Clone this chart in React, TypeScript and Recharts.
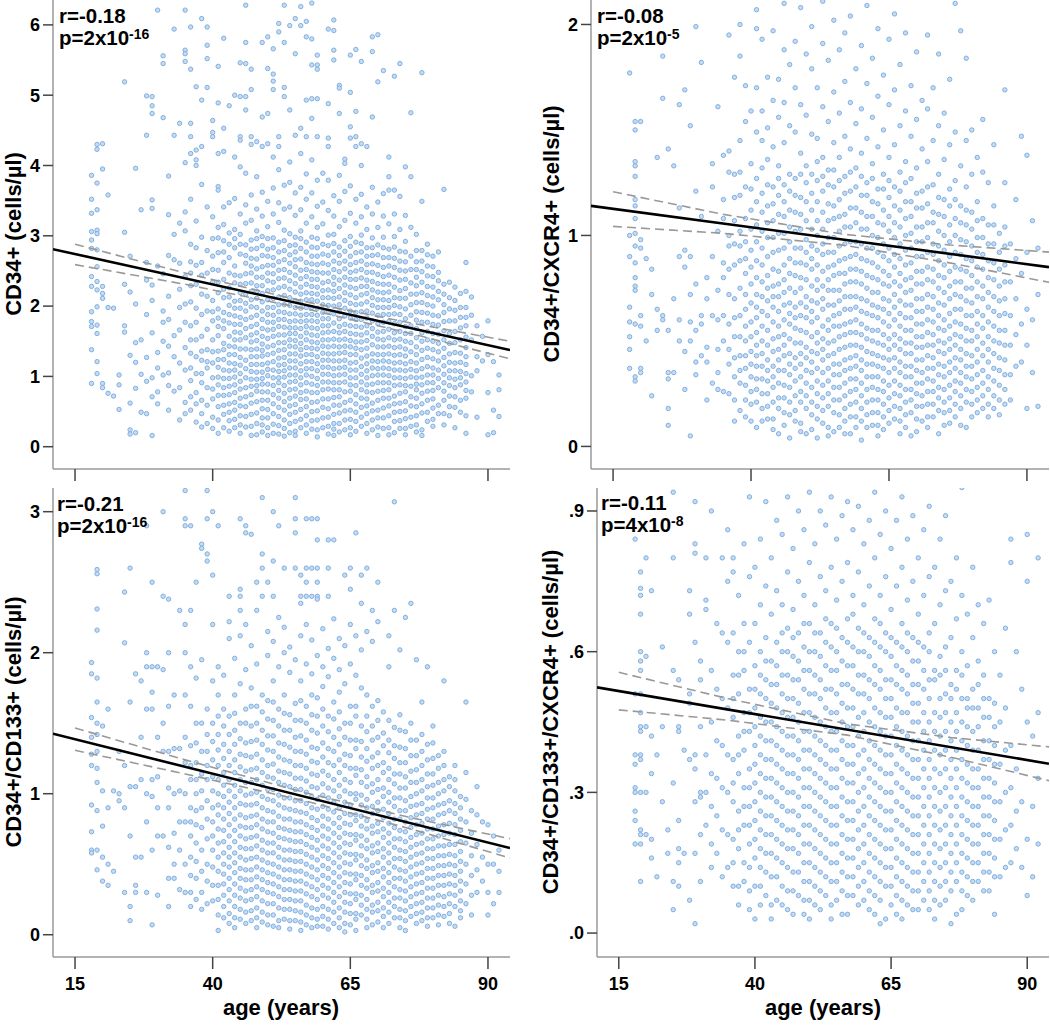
import React from 'react';
import { ScatterChart, Scatter, XAxis, YAxis } from 'recharts';

type Col = [number, number[]];
type Pt = { x: number; y: number };

const AGE_DOMAIN = [11, 94];
const AGE_TICKS = [15, 40, 65, 90];

// CD34+ (cells/µl) by age
const CD34_COLS: Col[] = [
  [18, [3.86, 3.52, 3.32, 3.06, 2.94, 2.82, 2.42, 2.28, 1.92, 1.78, 1.71, 1.38, 0.9]],
  [19, [4.3, 4.23, 3.75, 3.37, 3.08, 3.03, 2.8, 2.56, 2.35, 2.23, 1.99, 1.73, 1.61, 1.21, 1.04]],
  [20, [4.31, 3.95, 2.28, 2.18, 2.11, 0.9, 0.84]],
  [21, [3.58, 1.98, 0.76]],
  [22, [1.97, 0.72]],
  [23, [1.02, 0.88, 0.53]],
  [24, [5.19, 3.05, 2.31, 1.72, 1.63]],
  [25, [2.71, 2.2, 1.3, 0.62, 0.24, 0.18]],
  [26, [3.96, 2.03, 1.48, 1.2, 0.83, 0.2]],
  [27, [3.37, 1.52, 1.03, 0.49]],
  [28, [4.99, 4.43, 2.62, 2.37, 1.88, 1.27, 0.93, 0.47]],
  [29, [4.98, 4.85, 4.74, 3.51, 3.39, 2.3, 2.08, 1.62, 0.98, 0.71, 0.16]],
  [30, [6.21, 2.57, 1.34, 1.12, 0.78, 0.61]],
  [31, [5.56, 5.45, 4.68, 2.46, 1.93, 1.77, 1.5, 1.02]],
  [32, [3.85, 3.3, 2.72, 2.14, 1.81, 1.43, 1.05, 0.87, 0.52]],
  [33, [5.94, 4.43, 3.02, 2.66, 1.58, 1.28, 0.79]],
  [34, [4.6, 3.18, 2.61, 2.24, 1.98, 1.66, 1.19, 0.84, 0.38]],
  [35, [6.21, 5.64, 5.59, 5.48, 4.04, 3.34, 3.07, 2.42, 2.03, 1.77, 1.41, 1.09, 0.63, 0.47]],
  [36, [5.97, 5.37, 4.6, 4.41, 4.17, 3.52, 2.88, 2.63, 2.29, 2.06, 1.72, 1.33, 0.94, 0.52]],
  [37, [5.12, 4.22, 4.08, 4.0, 3.21, 2.58, 1.97, 1.52, 1.04, 0.77]],
  [38, [6.09, 4.93, 4.27, 3.73, 2.98, 2.44, 2.17, 1.88, 1.57, 1.23, 0.91, 0.28]],
  [39, [5.97, 5.71, 5.52, 5.11, 2.79, 2.47, 1.93, 1.38, 1.12, 0.59]],
  [40, [4.64, 4.47, 4.41, 3.27, 2.96, 2.71, 2.34, 2.08, 1.79, 1.52, 1.19, 0.98, 0.68, 0.42]],
  [41, [5.41, 4.89, 4.17, 3.7, 3.65, 3.12, 2.76, 2.51, 2.19, 1.96, 1.83, 1.58, 1.36, 1.13, 0.88, 0.57, 0.19]],
  [42, [5.81, 4.53, 4.2, 3.41, 3.16, 2.93, 2.62, 2.38, 2.12, 1.91, 1.68, 1.47, 1.24, 0.97, 0.73, 0.46]],
  [43, [4.85, 3.47, 3.04, 2.69, 2.47, 2.26, 2.01, 1.76, 1.57, 1.31, 1.08, 0.86, 0.61, 0.37]],
  [44, [5.0, 4.12, 3.53, 3.09, 2.83, 2.57, 2.33, 2.07, 1.86, 1.63, 1.42, 1.18, 0.99, 0.77, 0.52, 0.27]],
  [45, [5.46, 4.98, 4.41, 4.36, 3.98, 3.31, 3.02, 2.74, 2.43, 2.19, 1.97, 1.74, 1.52, 1.27, 1.04, 0.82, 0.58, 0.31]],
  [46, [6.28, 5.75, 5.45, 4.98, 4.79, 3.89, 3.44, 3.18, 2.87, 2.61, 2.32, 2.04, 1.81, 1.55, 1.23, 0.98, 0.71, 0.43]],
  [47, [5.37, 5.08, 4.41, 4.3, 3.58, 3.22, 2.94, 2.68, 2.47, 2.21, 1.99, 1.71, 1.49, 1.28, 1.07, 0.86, 0.62, 0.29]],
  [48, [4.34, 3.84, 3.38, 3.07, 2.82, 2.53, 2.29, 2.11, 1.87, 1.62, 1.39, 1.17, 0.96, 0.79, 0.48, 0.17]],
  [49, [5.75, 4.69, 4.27, 3.62, 3.28, 2.99, 2.72, 2.41, 2.18, 1.93, 1.68, 1.46, 1.29, 1.06, 0.89, 0.66, 0.41, 0.21]],
  [50, [5.83, 5.38, 4.74, 4.31, 3.49, 3.13, 2.81, 2.58, 2.36, 2.09, 1.88, 1.66, 1.42, 1.19, 1.01, 0.78, 0.53, 0.27]],
  [51, [5.66, 5.3, 5.2, 5.08, 4.12, 3.68, 3.31, 2.97, 2.69, 2.46, 2.23, 1.98, 1.77, 1.57, 1.33, 1.09, 0.87, 0.61, 0.32]],
  [52, [6.02, 5.9, 4.41, 4.27, 3.94, 3.47, 3.19, 2.91, 2.63, 2.39, 2.13, 1.92, 1.71, 1.48, 1.26, 1.07, 0.91, 0.69, 0.43, 0.18]],
  [53, [6.28, 5.75, 5.11, 4.98, 3.72, 3.38, 3.08, 2.79, 2.52, 2.28, 2.02, 1.81, 1.59, 1.38, 1.17, 0.99, 0.76, 0.52, 0.26]],
  [54, [5.99, 4.79, 4.05, 3.76, 3.41, 3.03, 2.73, 2.48, 2.24, 2.01, 1.78, 1.61, 1.43, 1.22, 1.02, 0.81, 0.58, 0.33]],
  [55, [6.09, 5.59, 4.43, 3.61, 3.29, 2.98, 2.77, 2.56, 2.32, 2.08, 1.89, 1.69, 1.51, 1.32, 1.12, 0.93, 0.72, 0.49, 0.22]],
  [56, [6.26, 5.99, 4.53, 4.17, 3.69, 3.37, 3.07, 2.82, 2.51, 2.27, 2.07, 1.87, 1.68, 1.47, 1.29, 1.08, 0.88, 0.67, 0.39]],
  [57, [6.05, 5.83, 4.93, 4.41, 3.88, 3.52, 3.18, 2.91, 2.62, 2.42, 2.19, 1.98, 1.79, 1.62, 1.41, 1.21, 1.02, 0.79, 0.57, 0.31]],
  [58, [6.31, 5.8, 5.43, 4.95, 4.67, 4.08, 3.61, 3.27, 2.98, 2.71, 2.49, 2.28, 2.09, 1.88, 1.69, 1.49, 1.31, 1.11, 0.89, 0.63, 0.37]],
  [59, [5.57, 5.43, 5.37, 4.95, 4.41, 3.79, 3.42, 3.12, 2.83, 2.59, 2.38, 2.17, 1.97, 1.78, 1.58, 1.39, 1.18, 0.97, 0.77, 0.51, 0.24]],
  [60, [3.89, 3.48, 3.17, 2.88, 2.61, 2.33, 2.12, 1.91, 1.72, 1.52, 1.33, 1.13, 0.92, 0.68, 0.41]],
  [61, [5.94, 4.88, 4.39, 4.27, 3.79, 3.36, 3.01, 2.72, 2.47, 2.23, 2.01, 1.82, 1.63, 1.42, 1.23, 1.03, 0.82, 0.54, 0.29]],
  [62, [6.07, 5.92, 5.64, 5.5, 3.57, 3.28, 3.02, 2.77, 2.52, 2.31, 2.11, 1.89, 1.64, 1.43, 1.22, 1.01, 0.81, 0.59, 0.33, 0.16]],
  [63, [5.14, 5.1, 4.74, 3.86, 3.49, 3.13, 2.84, 2.61, 2.37, 2.13, 1.92, 1.71, 1.52, 1.33, 1.12, 0.91, 0.71, 0.48, 0.21]],
  [64, [4.09, 4.03, 3.63, 3.22, 2.93, 2.64, 2.41, 2.19, 1.97, 1.74, 1.53, 1.34, 1.13, 0.92, 0.63, 0.38]],
  [65, [5.57, 5.04, 4.55, 4.39, 3.71, 3.32, 2.99, 2.71, 2.48, 2.27, 2.04, 1.83, 1.61, 1.42, 1.19, 0.98, 0.79, 0.52, 0.27]],
  [66, [5.65, 4.77, 4.41, 4.27, 3.52, 3.18, 2.91, 2.62, 2.38, 2.12, 1.91, 1.71, 1.49, 1.31, 1.09, 0.87, 0.61, 0.36]],
  [67, [5.48, 4.31, 4.0, 3.59, 3.27, 3.01, 2.77, 2.52, 2.28, 2.03, 1.81, 1.59, 1.38, 1.14, 0.92, 0.69, 0.42]],
  [68, [4.27, 3.41, 3.09, 2.83, 2.59, 2.37, 2.18, 1.93, 1.72, 1.51, 1.29, 1.08, 0.88, 0.68, 0.47, 0.19]],
  [69, [5.83, 5.62, 4.69, 3.69, 3.31, 2.97, 2.72, 2.48, 2.23, 2.01, 1.79, 1.57, 1.32, 1.12, 0.89, 0.62, 0.38]],
  [70, [5.86, 5.19, 3.48, 3.12, 2.87, 2.58, 2.32, 2.09, 1.87, 1.63, 1.42, 1.21, 1.02, 0.79, 0.52, 0.28]],
  [71, [5.35, 3.6, 3.28, 2.98, 2.69, 2.42, 2.19, 1.98, 1.77, 1.52, 1.31, 1.12, 0.91, 0.69, 0.41]],
  [72, [4.12, 3.84, 3.65, 3.17, 2.81, 2.57, 2.31, 2.08, 1.88, 1.67, 1.43, 1.21, 1.01, 0.81, 0.58, 0.27]],
  [73, [5.27, 3.65, 3.31, 2.99, 2.68, 2.41, 2.12, 1.89, 1.62, 1.41, 1.19, 0.98, 0.72, 0.49]],
  [74, [5.45, 3.56, 3.09, 2.78, 2.51, 2.22, 1.99, 1.77, 1.53, 1.31, 1.09, 0.88, 0.62, 0.37]],
  [75, [3.98, 3.29, 2.92, 2.63, 2.38, 2.11, 1.82, 1.61, 1.39, 1.18, 0.97, 0.78, 0.51, 0.26]],
  [76, [4.75, 3.84, 3.12, 2.71, 2.33, 2.02, 1.72, 1.48, 1.21, 0.99, 0.71, 0.42]],
  [77, [3.02, 2.63, 2.41, 2.17, 1.92, 1.68, 1.42, 1.19, 0.98, 0.81, 0.57, 0.31]],
  [78, [5.32, 3.49, 2.79, 2.49, 2.19, 1.91, 1.62, 1.37, 1.11, 0.88, 0.61, 0.24]],
  [79, [2.88, 2.57, 2.28, 2.02, 1.77, 1.52, 1.27, 1.02, 0.79, 0.49]],
  [80, [2.71, 2.42, 2.13, 1.87, 1.61, 1.38, 1.12, 0.91, 0.68, 0.39]],
  [81, [2.77, 2.48, 2.21, 1.73, 1.47, 1.22, 0.97, 0.59]],
  [82, [3.66, 2.31, 2.02, 1.78, 1.52, 1.27, 1.03, 0.79, 0.47]],
  [83, [2.12, 1.96, 1.61, 1.32, 1.08, 0.87, 0.57]],
  [84, [2.08, 1.79, 1.48, 1.19, 0.96, 0.71]],
  [85, [1.98, 1.69, 1.33, 1.07, 0.88, 0.49]],
  [86, [2.62, 2.21, 1.98, 1.72, 1.41, 1.17, 0.92, 0.69, 0.19]],
  [87, [2.13, 1.87, 1.52, 1.01, 0.78]],
  [88, [1.72, 1.28, 1.08, 0.42]],
  [89, [1.57, 1.22]],
  [90, [1.79, 1.31, 0.77, 0.17]],
  [91, [1.21, 0.52, 0.2]],
  [92, [1.02, 0.81, 0.43]],
];

// the crowded core of the CD34+ cloud, second pass
const CD34_CORE: Col[] = [
  [36, [2.47, 1.52, 1.12, 0.71]],
  [37, [2.83, 2.31, 1.77, 1.28, 0.61, 0.35]],
  [38, [2.62, 1.36, 1.04, 0.66, 0.47]],
  [39, [3.41, 2.14, 1.67, 1.21, 0.84, 0.33]],
  [40, [2.52, 1.92, 1.35, 0.82, 0.26]],
  [41, [2.97, 2.34, 1.71, 1.24, 0.99, 0.73, 0.38]],
  [42, [2.77, 2.24, 1.79, 1.38, 1.09, 0.84, 0.59, 0.27]],
  [43, [2.88, 2.13, 1.88, 1.43, 1.19, 0.97, 0.74, 0.49, 0.22]],
  [44, [2.96, 2.44, 1.97, 1.74, 1.52, 1.31, 1.09, 0.88, 0.63, 0.39]],
  [45, [2.88, 2.31, 2.08, 1.84, 1.62, 1.39, 1.16, 0.93, 0.69, 0.44, 0.19]],
  [46, [2.72, 2.46, 2.17, 1.93, 1.68, 1.39, 1.11, 0.84, 0.57, 0.28]],
  [47, [2.81, 2.57, 2.33, 2.09, 1.84, 1.59, 1.38, 1.17, 0.96, 0.74, 0.46, 0.16]],
  [48, [2.96, 2.67, 2.41, 2.21, 1.98, 1.74, 1.51, 1.28, 1.06, 0.87, 0.64, 0.33]],
  [49, [2.86, 2.56, 2.29, 2.06, 1.81, 1.57, 1.37, 1.17, 0.97, 0.78, 0.54, 0.31]],
  [50, [2.96, 2.71, 2.47, 2.22, 1.98, 1.77, 1.54, 1.31, 1.1, 0.89, 0.66, 0.41, 0.16]],
  [51, [2.83, 2.58, 2.34, 2.11, 1.87, 1.67, 1.44, 1.21, 0.98, 0.74, 0.47, 0.19]],
  [52, [2.77, 2.51, 2.26, 2.02, 1.81, 1.59, 1.37, 1.16, 0.98, 0.8, 0.56, 0.3]],
  [53, [2.93, 2.66, 2.4, 2.15, 1.91, 1.7, 1.48, 1.27, 1.08, 0.87, 0.64, 0.38, 0.15]],
  [54, [2.86, 2.61, 2.36, 2.12, 1.89, 1.69, 1.52, 1.32, 1.12, 0.92, 0.69, 0.46, 0.2]],
  [55, [2.87, 2.66, 2.44, 2.2, 1.98, 1.79, 1.61, 1.42, 1.22, 1.02, 0.82, 0.6, 0.36, 0.16]],
  [56, [2.96, 2.67, 2.39, 2.17, 1.97, 1.78, 1.57, 1.38, 1.18, 0.98, 0.77, 0.53, 0.27]],
  [57, [2.77, 2.52, 2.31, 2.09, 1.88, 1.71, 1.52, 1.31, 1.11, 0.91, 0.68, 0.44, 0.19]],
  [58, [2.84, 2.6, 2.38, 2.18, 1.98, 1.79, 1.59, 1.4, 1.21, 1.0, 0.77, 0.5, 0.25]],
  [59, [2.96, 2.71, 2.48, 2.27, 2.07, 1.87, 1.68, 1.48, 1.28, 1.08, 0.87, 0.64, 0.38, 0.14]],
  [60, [2.74, 2.47, 2.22, 2.02, 1.82, 1.62, 1.43, 1.23, 1.03, 0.81, 0.56, 0.27]],
  [61, [2.86, 2.59, 2.35, 2.12, 1.92, 1.72, 1.52, 1.32, 1.13, 0.92, 0.68, 0.42, 0.18]],
  [62, [2.89, 2.64, 2.41, 2.21, 2.0, 1.76, 1.53, 1.32, 1.11, 0.91, 0.7, 0.46, 0.25]],
  [63, [2.72, 2.49, 2.25, 2.02, 1.82, 1.62, 1.42, 1.22, 1.02, 0.81, 0.59, 0.33]],
  [64, [2.78, 2.53, 2.3, 2.08, 1.86, 1.64, 1.43, 1.23, 1.03, 0.78, 0.51, 0.24]],
  [65, [2.85, 2.59, 2.38, 2.16, 1.93, 1.72, 1.51, 1.31, 1.09, 0.88, 0.66, 0.39, 0.17]],
  [66, [2.76, 2.5, 2.25, 2.02, 1.81, 1.6, 1.4, 1.2, 0.98, 0.74, 0.49, 0.22]],
  [67, [2.89, 2.64, 2.4, 2.16, 1.92, 1.7, 1.49, 1.26, 1.03, 0.81, 0.56, 0.29]],
  [68, [2.71, 2.48, 2.28, 2.06, 1.83, 1.62, 1.4, 1.18, 0.98, 0.78, 0.58, 0.33]],
  [69, [2.83, 2.6, 2.35, 2.12, 1.9, 1.68, 1.45, 1.22, 1.01, 0.77, 0.51, 0.24]],
  [70, [2.73, 2.45, 2.2, 1.98, 1.75, 1.53, 1.31, 1.11, 0.91, 0.66, 0.41, 0.16]],
  [71, [2.83, 2.55, 2.31, 2.09, 1.88, 1.64, 1.42, 1.22, 1.02, 0.8, 0.55, 0.26]],
  [72, [2.69, 2.44, 2.2, 1.98, 1.78, 1.55, 1.32, 1.11, 0.91, 0.69, 0.44, 0.17]],
  [73, [2.84, 2.55, 2.27, 2.01, 1.75, 1.52, 1.3, 1.09, 0.87, 0.61, 0.36, 0.2]],
  [74, [2.64, 2.37, 2.11, 1.88, 1.64, 1.42, 1.2, 0.98, 0.76, 0.5, 0.26]],
  [75, [2.77, 2.5, 2.25, 1.96, 1.71, 1.5, 1.29, 1.08, 0.87, 0.64, 0.4, 0.17]],
  [76, [2.52, 2.17, 1.87, 1.61, 1.35, 1.1, 0.86, 0.58, 0.29]],
  [77, [2.79, 2.52, 2.29, 2.05, 1.8, 1.55, 1.31, 1.08, 0.89, 0.69, 0.44, 0.21]],
  [78, [2.64, 2.34, 2.05, 1.77, 1.5, 1.24, 0.99, 0.76, 0.48, 0.16]],
  [79, [2.73, 2.43, 2.15, 1.9, 1.64, 1.4, 1.14, 0.91, 0.66, 0.36]],
  [80, [2.56, 2.27, 2.0, 1.74, 1.5, 1.25, 1.02, 0.8, 0.55, 0.29]],
  [81, [2.36, 2.09, 1.86, 1.6, 1.35, 1.09, 0.84, 0.47]],
  [82, [2.17, 1.91, 1.65, 1.4, 1.15, 0.91, 0.66, 0.31]],
  [83, [2.34, 1.79, 1.47, 1.2, 0.98, 0.72, 0.44]],
  [84, [2.27, 1.94, 1.64, 1.34, 1.08, 0.84, 0.56, 0.27]],
  [85, [2.18, 1.84, 1.52, 1.2, 0.98, 0.66]],
  [86, [1.84, 1.56, 1.28, 1.04, 0.8, 0.44]],
];

// CD34+/CXCR4+ (cells/µl)
const CXCR4_COLS: Col[] = [
  [18, [1.77, 1.0, 0.9, 0.66, 0.59, 0.52, 0.46, 0.37]],
  [19, [1.54, 1.5, 1.35, 1.33, 1.28, 1.17, 1.14, 1.08, 1.01, 0.95, 0.87, 0.8, 0.76, 0.74, 0.58, 0.33, 0.31]],
  [20, [1.54, 0.98, 0.94, 0.62, 0.57, 0.37, 0.35]],
  [21, [0.89, 0.5]],
  [22, [0.84, 0.72, 0.24]],
  [23, [1.37, 0.65, 0.55]],
  [24, [1.85, 1.65, 0.62, 0.6]],
  [25, [1.41, 0.55, 0.35, 0.32, 0.18, 0.1]],
  [26, [1.33, 0.7, 0.35]],
  [27, [1.62, 1.13, 0.9, 0.6, 0.5]],
  [28, [1.69, 0.93, 0.85, 0.45, 0.27]],
  [29, [1.52, 0.9, 0.72, 0.59, 0.5, 0.05]],
  [30, [1.99, 1.21, 0.77, 0.55, 0.4, 0.34]],
  [31, [1.82, 1.09, 0.62, 0.58, 0.43]],
  [32, [0.8, 0.7, 0.47, 0.4, 0.22]],
  [33, [1.34, 1.23, 0.9, 0.62, 0.3]],
  [34, [1.61, 1.02, 0.74, 0.6, 0.46, 0.35, 0.27]],
  [35, [1.38, 1.17, 1.08, 0.87, 0.8, 0.62, 0.5, 0.26]],
  [36, [1.95, 1.4, 1.3, 1.0, 0.95, 0.72, 0.58, 0.39]],
  [37, [1.75, 1.29, 1.07, 0.96, 0.7, 0.52, 0.33, 0.12]],
  [38, [2.0, 1.85, 1.45, 1.19, 1.02, 0.88, 0.62, 0.43, 0.3]],
  [39, [1.71, 1.54, 1.23, 0.97, 0.82, 0.65, 0.5, 0.37, 0.22]],
  [40, [1.59, 1.34, 1.12, 0.93, 0.77, 0.59, 0.45, 0.33, 0.2]],
  [41, [2.07, 1.98, 1.7, 1.49, 1.27, 1.05, 0.88, 0.72, 0.61, 0.48, 0.38, 0.27]],
  [42, [1.93, 1.59, 1.45, 1.2, 1.02, 0.86, 0.71, 0.57, 0.44, 0.32, 0.18]],
  [43, [1.75, 1.51, 1.36, 1.14, 0.99, 0.81, 0.69, 0.55, 0.41, 0.31, 0.19]],
  [44, [1.97, 1.64, 1.42, 1.23, 1.07, 0.92, 0.76, 0.66, 0.51, 0.38, 0.28, 0.13]],
  [45, [1.74, 1.56, 1.33, 1.19, 1.01, 0.83, 0.71, 0.57, 0.46, 0.36, 0.23]],
  [46, [2.1, 1.88, 1.63, 1.44, 1.24, 1.09, 0.94, 0.79, 0.67, 0.53, 0.43, 0.29, 0.16]],
  [47, [1.81, 1.52, 1.29, 1.12, 0.97, 0.82, 0.68, 0.58, 0.44, 0.34, 0.21]],
  [48, [1.92, 1.7, 1.49, 1.27, 1.11, 0.94, 0.81, 0.66, 0.56, 0.42, 0.31, 0.17]],
  [49, [2.08, 1.62, 1.39, 1.18, 1.03, 0.87, 0.75, 0.62, 0.49, 0.39, 0.26, 0.11]],
  [50, [1.86, 1.57, 1.33, 1.16, 0.98, 0.86, 0.71, 0.61, 0.47, 0.36, 0.24]],
  [51, [1.99, 1.79, 1.48, 1.29, 1.12, 0.95, 0.84, 0.69, 0.59, 0.45, 0.35, 0.21, 0.08]],
  [52, [1.7, 1.46, 1.26, 1.07, 0.93, 0.79, 0.68, 0.54, 0.44, 0.31, 0.19]],
  [53, [2.11, 1.91, 1.61, 1.37, 1.21, 1.03, 0.91, 0.76, 0.65, 0.51, 0.41, 0.29, 0.17]],
  [54, [1.83, 1.54, 1.31, 1.15, 0.99, 0.85, 0.74, 0.6, 0.49, 0.37, 0.25, 0.09]],
  [55, [2.02, 1.68, 1.44, 1.23, 1.08, 0.92, 0.81, 0.67, 0.57, 0.44, 0.34, 0.22]],
  [56, [1.88, 1.58, 1.37, 1.17, 1.02, 0.88, 0.74, 0.63, 0.52, 0.39, 0.28, 0.15]],
  [57, [1.96, 1.73, 1.47, 1.28, 1.1, 0.96, 0.82, 0.71, 0.58, 0.47, 0.36, 0.24, 0.12]],
  [58, [2.04, 1.63, 1.41, 1.21, 1.04, 0.9, 0.78, 0.65, 0.54, 0.42, 0.32, 0.2, 0.06]],
  [59, [1.79, 1.53, 1.32, 1.13, 0.97, 0.84, 0.71, 0.6, 0.48, 0.38, 0.27, 0.14]],
  [60, [1.9, 1.6, 1.39, 1.19, 1.03, 0.89, 0.77, 0.64, 0.53, 0.41, 0.3, 0.18]],
  [61, [2.09, 1.72, 1.46, 1.25, 1.09, 0.94, 0.81, 0.69, 0.56, 0.45, 0.33, 0.21, 0.09]],
  [62, [1.84, 1.56, 1.34, 1.16, 1.0, 0.87, 0.73, 0.62, 0.5, 0.39, 0.28, 0.16]],
  [63, [1.98, 1.66, 1.42, 1.22, 1.06, 0.92, 0.79, 0.66, 0.55, 0.43, 0.33, 0.22, 0.1]],
  [64, [1.76, 1.5, 1.29, 1.12, 0.96, 0.83, 0.7, 0.59, 0.48, 0.37, 0.26, 0.14]],
  [65, [1.93, 1.62, 1.37, 1.18, 1.02, 0.88, 0.76, 0.63, 0.51, 0.41, 0.29, 0.17]],
  [66, [2.05, 1.69, 1.43, 1.23, 1.06, 0.91, 0.78, 0.66, 0.53, 0.42, 0.31, 0.19]],
  [67, [1.81, 1.52, 1.3, 1.12, 0.96, 0.82, 0.69, 0.57, 0.46, 0.35, 0.24, 0.12]],
  [68, [1.96, 1.59, 1.35, 1.16, 1.0, 0.86, 0.73, 0.61, 0.49, 0.38, 0.27, 0.15]],
  [69, [1.71, 1.47, 1.27, 1.09, 0.94, 0.8, 0.67, 0.55, 0.44, 0.33, 0.22]],
  [70, [1.87, 1.55, 1.32, 1.13, 0.97, 0.83, 0.7, 0.58, 0.47, 0.36, 0.25, 0.13]],
  [71, [1.64, 1.41, 1.21, 1.04, 0.9, 0.77, 0.64, 0.52, 0.41, 0.3, 0.19]],
  [72, [1.95, 1.6, 1.35, 1.15, 0.99, 0.85, 0.72, 0.6, 0.48, 0.37, 0.26, 0.14]],
  [73, [1.7, 1.45, 1.24, 1.06, 0.91, 0.78, 0.65, 0.53, 0.42, 0.31, 0.2]],
  [74, [1.86, 1.52, 1.29, 1.1, 0.95, 0.81, 0.68, 0.56, 0.45, 0.34, 0.23]],
  [75, [1.58, 1.36, 1.17, 1.0, 0.86, 0.73, 0.6, 0.49, 0.38, 0.27, 0.16]],
  [76, [1.74, 1.43, 1.22, 1.05, 0.9, 0.76, 0.63, 0.51, 0.4, 0.29, 0.17]],
  [77, [2.1, 1.49, 1.26, 1.08, 0.92, 0.78, 0.65, 0.53, 0.42, 0.31, 0.2]],
  [78, [1.97, 1.33, 1.14, 0.98, 0.84, 0.71, 0.58, 0.46, 0.35, 0.24, 0.1]],
  [79, [1.84, 1.45, 1.23, 1.05, 0.89, 0.75, 0.62, 0.5, 0.38, 0.27]],
  [80, [1.5, 1.29, 1.11, 0.95, 0.81, 0.68, 0.55, 0.43, 0.32, 0.2]],
  [81, [1.37, 1.16, 0.99, 0.85, 0.71, 0.58, 0.46, 0.34, 0.22]],
  [82, [1.55, 1.3, 1.08, 0.91, 0.76, 0.62, 0.49, 0.36, 0.24]],
  [83, [1.25, 1.05, 0.88, 0.73, 0.59, 0.46, 0.33, 0.2]],
  [84, [1.43, 1.14, 0.96, 0.79, 0.64, 0.5, 0.37, 0.24]],
  [85, [1.01, 0.84, 0.69, 0.55, 0.42, 0.29, 0.15]],
  [86, [1.69, 1.25, 1.04, 0.86, 0.7, 0.55, 0.41, 0.27]],
  [87, [0.96, 0.78, 0.62, 0.48, 0.34, 0.22]],
  [88, [1.17, 0.89, 0.7, 0.53, 0.38]],
  [89, [1.47, 0.82, 0.58, 0.4]],
  [90, [1.38, 0.92, 0.65, 0.48, 0.18]],
  [91, [1.07, 0.6, 0.35]],
  [92, [0.94, 0.72, 0.19]],
];

const CXCR4_CORE: Col[] = [
  [36, [0.84, 0.46, 0.25]],
  [37, [1.18, 0.86, 0.61, 0.42, 0.22]],
  [38, [1.3, 0.95, 0.75, 0.52, 0.36, 0.17]],
  [39, [1.08, 0.89, 0.72, 0.57, 0.43, 0.29, 0.14]],
  [40, [1.22, 1.03, 0.85, 0.68, 0.52, 0.39, 0.26, 0.12]],
  [41, [1.16, 0.97, 0.8, 0.66, 0.54, 0.43, 0.32, 0.21, 0.09]],
  [42, [1.32, 1.11, 0.94, 0.78, 0.64, 0.5, 0.38, 0.25, 0.12]],
  [43, [1.24, 1.06, 0.9, 0.75, 0.62, 0.48, 0.36, 0.25, 0.13]],
  [44, [1.15, 0.99, 0.84, 0.71, 0.59, 0.45, 0.33, 0.21, 0.08]],
  [45, [1.27, 1.1, 0.93, 0.77, 0.64, 0.52, 0.41, 0.3, 0.18, 0.06]],
  [46, [1.16, 1.01, 0.86, 0.73, 0.6, 0.48, 0.36, 0.23, 0.1]],
  [47, [1.21, 1.04, 0.89, 0.75, 0.63, 0.51, 0.39, 0.28, 0.15, 0.04]],
  [48, [1.19, 1.02, 0.87, 0.73, 0.61, 0.49, 0.37, 0.24, 0.12]],
  [49, [1.29, 1.1, 0.94, 0.8, 0.68, 0.55, 0.44, 0.33, 0.21, 0.07]],
  [50, [1.25, 1.07, 0.92, 0.79, 0.66, 0.54, 0.42, 0.3, 0.18, 0.06]],
  [51, [1.2, 1.03, 0.89, 0.76, 0.64, 0.52, 0.4, 0.28, 0.15]],
  [52, [1.35, 1.16, 1.0, 0.86, 0.74, 0.61, 0.49, 0.37, 0.25, 0.13, 0.04]],
  [53, [1.28, 1.11, 0.96, 0.83, 0.7, 0.57, 0.46, 0.35, 0.23, 0.11]],
  [54, [1.24, 1.07, 0.92, 0.79, 0.67, 0.55, 0.43, 0.31, 0.19, 0.05]],
  [55, [1.31, 1.14, 0.99, 0.86, 0.74, 0.62, 0.5, 0.39, 0.28, 0.16, 0.07]],
  [56, [1.26, 1.09, 0.95, 0.82, 0.69, 0.57, 0.46, 0.34, 0.22, 0.09]],
  [57, [1.2, 1.04, 0.89, 0.77, 0.65, 0.53, 0.41, 0.3, 0.18, 0.06]],
  [58, [1.3, 1.13, 0.97, 0.84, 0.71, 0.59, 0.48, 0.37, 0.26, 0.14]],
  [59, [1.23, 1.06, 0.91, 0.78, 0.66, 0.54, 0.43, 0.32, 0.21, 0.09]],
  [60, [1.28, 1.11, 0.96, 0.83, 0.7, 0.58, 0.47, 0.36, 0.24, 0.12, 0.03]],
  [61, [1.19, 1.03, 0.88, 0.75, 0.63, 0.51, 0.39, 0.27, 0.15]],
  [62, [1.27, 1.09, 0.94, 0.8, 0.67, 0.55, 0.44, 0.33, 0.22, 0.1]],
  [63, [1.15, 0.99, 0.85, 0.73, 0.61, 0.49, 0.38, 0.27, 0.16, 0.05]],
  [64, [1.22, 1.05, 0.9, 0.77, 0.65, 0.53, 0.42, 0.31, 0.2, 0.08]],
  [65, [1.26, 1.09, 0.94, 0.81, 0.69, 0.57, 0.46, 0.35, 0.23, 0.11]],
  [66, [1.14, 0.99, 0.85, 0.72, 0.6, 0.48, 0.37, 0.25, 0.13]],
  [67, [1.21, 1.04, 0.89, 0.76, 0.63, 0.51, 0.4, 0.29, 0.18, 0.06]],
  [68, [1.25, 1.08, 0.93, 0.79, 0.67, 0.55, 0.44, 0.33, 0.21, 0.09]],
  [69, [1.16, 1.01, 0.87, 0.74, 0.61, 0.49, 0.38, 0.27, 0.16, 0.05]],
  [70, [1.2, 1.04, 0.9, 0.77, 0.64, 0.52, 0.41, 0.3, 0.19, 0.07]],
  [71, [1.13, 0.97, 0.83, 0.7, 0.58, 0.47, 0.35, 0.24, 0.12]],
  [72, [1.23, 1.06, 0.92, 0.79, 0.66, 0.54, 0.43, 0.32, 0.2, 0.09]],
  [73, [1.11, 0.96, 0.84, 0.71, 0.59, 0.48, 0.37, 0.26, 0.14]],
  [74, [1.18, 1.02, 0.88, 0.75, 0.62, 0.5, 0.39, 0.28, 0.17, 0.06]],
  [75, [1.09, 0.93, 0.8, 0.67, 0.55, 0.44, 0.33, 0.21, 0.1]],
  [76, [1.14, 0.97, 0.83, 0.7, 0.57, 0.46, 0.35, 0.23, 0.11]],
  [77, [1.17, 1.0, 0.85, 0.72, 0.59, 0.48, 0.37, 0.26, 0.14]],
  [78, [1.06, 0.91, 0.78, 0.65, 0.52, 0.41, 0.3, 0.18]],
  [79, [1.12, 0.97, 0.83, 0.69, 0.56, 0.44, 0.33, 0.21, 0.09]],
  [80, [1.03, 0.88, 0.75, 0.62, 0.5, 0.38, 0.26, 0.14]],
  [81, [1.07, 0.92, 0.78, 0.64, 0.52, 0.4, 0.28, 0.16]],
  [82, [0.99, 0.84, 0.7, 0.56, 0.43, 0.3, 0.18]],
  [83, [0.96, 0.8, 0.66, 0.52, 0.4, 0.27, 0.14]],
  [84, [1.05, 0.87, 0.71, 0.57, 0.44, 0.31, 0.18]],
  [85, [0.92, 0.76, 0.62, 0.49, 0.36, 0.22]],
  [86, [0.95, 0.78, 0.63, 0.48, 0.34, 0.2]],
];

// CD34+/CD133+ (cells/µl)
const CD133_COLS: Col[] = [
  [18, [1.93, 1.85, 1.54, 1.4, 1.28, 1.2, 0.92, 0.73, 0.6, 0.58]],
  [19, [2.59, 2.56, 2.31, 2.16, 1.82, 1.65, 1.5, 1.42, 1.3, 1.18, 1.08, 0.88, 0.6, 0.46]],
  [20, [1.48, 1.02, 0.77, 0.55, 0.38]],
  [21, [1.6, 0.9, 0.5, 0.35]],
  [22, [1.02, 0.45]],
  [23, [1.3, 1.0, 0.95]],
  [24, [2.43, 2.07, 1.2, 0.9, 0.3]],
  [25, [2.6, 1.65, 1.05, 0.7, 0.2, 0.1]],
  [26, [1.85, 1.05, 0.55, 0.35, 0.3]],
  [27, [1.8, 1.4, 1.1, 0.55]],
  [28, [2.9, 2.0, 1.9, 1.6, 1.0, 0.8, 0.3]],
  [29, [2.5, 1.9, 1.72, 1.6, 1.1, 0.98, 0.6, 0.07]],
  [30, [1.9, 1.4, 1.12, 0.9, 0.7, 0.28]],
  [31, [3.0, 2.4, 1.88, 1.5, 1.3, 0.7]],
  [32, [2.38, 2.0, 1.62, 1.3, 1.04, 0.9, 0.62, 0.4, 0.2]],
  [33, [1.7, 1.32, 1.0, 0.72, 0.5, 0.4]],
  [34, [2.3, 1.32, 1.02, 0.8, 0.6, 0.32]],
  [35, [3.15, 2.95, 2.9, 2.2, 2.0, 1.7, 1.4, 1.22, 1.0, 0.8, 0.5, 0.3]],
  [36, [2.9, 2.3, 1.9, 1.62, 1.34, 1.1, 0.9, 0.7, 0.42, 0.2]],
  [37, [2.5, 1.82, 1.5, 1.22, 1.0, 0.78, 0.52]],
  [38, [2.77, 2.74, 1.95, 1.5, 1.14, 0.9, 0.6, 0.3]],
  [39, [3.15, 2.95, 2.7, 2.65, 1.6, 1.3, 1.1, 0.82, 0.5]],
  [40, [3.0, 2.55, 2.2, 1.8, 1.5, 1.24, 1.02, 0.8, 0.6, 0.35]],
  [41, [2.9, 1.9, 1.7, 1.42, 1.2, 1.0, 0.85, 0.65, 0.45, 0.25, 0.03]],
  [42, [1.84, 1.6, 1.35, 1.15, 0.98, 0.82, 0.66, 0.5, 0.36, 0.2]],
  [43, [2.4, 2.1, 1.55, 1.3, 1.1, 0.94, 0.78, 0.62, 0.48, 0.32, 0.15]],
  [44, [1.96, 1.7, 1.45, 1.24, 1.06, 0.9, 0.74, 0.58, 0.44, 0.28, 0.12]],
  [45, [2.95, 2.45, 2.4, 2.3, 1.78, 1.5, 1.28, 1.1, 0.93, 0.77, 0.62, 0.47, 0.33, 0.18]],
  [46, [2.9, 2.85, 1.88, 1.6, 1.36, 1.16, 0.99, 0.83, 0.68, 0.53, 0.39, 0.24, 0.08]],
  [47, [2.84, 1.75, 1.48, 1.26, 1.08, 0.92, 0.76, 0.61, 0.46, 0.32, 0.17]],
  [48, [2.5, 1.92, 1.62, 1.38, 1.18, 1.01, 0.85, 0.7, 0.55, 0.41, 0.27, 0.12]],
  [49, [3.1, 2.7, 2.6, 2.4, 1.7, 1.45, 1.24, 1.06, 0.9, 0.75, 0.6, 0.46, 0.32, 0.16]],
  [50, [2.5, 1.98, 1.66, 1.41, 1.2, 1.03, 0.88, 0.73, 0.58, 0.44, 0.3, 0.14]],
  [51, [3.0, 2.65, 2.4, 1.8, 1.52, 1.3, 1.11, 0.95, 0.8, 0.65, 0.5, 0.36, 0.22, 0.06]],
  [52, [2.9, 1.9, 1.6, 1.36, 1.16, 0.99, 0.84, 0.69, 0.55, 0.41, 0.27, 0.1]],
  [53, [2.6, 2.0, 1.7, 1.45, 1.24, 1.06, 0.9, 0.75, 0.6, 0.46, 0.32, 0.18]],
  [54, [1.86, 1.56, 1.33, 1.14, 0.97, 0.82, 0.67, 0.53, 0.39, 0.25, 0.1]],
  [55, [3.1, 2.95, 2.85, 2.6, 1.95, 1.64, 1.4, 1.2, 1.03, 0.88, 0.73, 0.59, 0.45, 0.31, 0.17]],
  [56, [2.55, 2.4, 2.35, 1.8, 1.52, 1.3, 1.11, 0.95, 0.8, 0.66, 0.52, 0.38, 0.24, 0.09]],
  [57, [2.95, 2.6, 2.5, 2.4, 1.92, 1.62, 1.38, 1.18, 1.01, 0.86, 0.71, 0.57, 0.43, 0.29, 0.14]],
  [58, [2.95, 2.6, 2.4, 1.85, 1.56, 1.33, 1.14, 0.98, 0.83, 0.69, 0.55, 0.41, 0.27, 0.12]],
  [59, [2.95, 2.8, 2.6, 2.5, 2.4, 2.38, 1.98, 1.68, 1.43, 1.22, 1.04, 0.89, 0.74, 0.6, 0.46, 0.32, 0.18, 0.06]],
  [60, [1.9, 1.6, 1.36, 1.16, 0.99, 0.84, 0.7, 0.56, 0.42, 0.28, 0.13]],
  [61, [2.8, 2.6, 2.4, 1.83, 1.55, 1.32, 1.13, 0.97, 0.82, 0.68, 0.54, 0.4, 0.26, 0.11]],
  [62, [2.8, 1.96, 1.65, 1.4, 1.2, 1.02, 0.87, 0.72, 0.58, 0.44, 0.3, 0.16]],
  [63, [1.88, 1.58, 1.35, 1.15, 0.98, 0.83, 0.69, 0.55, 0.41, 0.27, 0.12]],
  [64, [2.55, 1.78, 1.5, 1.28, 1.1, 0.94, 0.79, 0.65, 0.51, 0.37, 0.23, 0.02]],
  [65, [2.6, 2.45, 1.92, 1.62, 1.38, 1.18, 1.0, 0.85, 0.71, 0.57, 0.43, 0.29, 0.15]],
  [66, [2.85, 1.84, 1.55, 1.32, 1.13, 0.96, 0.81, 0.67, 0.53, 0.39, 0.25, 0.11]],
  [67, [2.55, 2.35, 1.75, 1.48, 1.26, 1.08, 0.92, 0.77, 0.63, 0.49, 0.35, 0.21]],
  [68, [2.6, 1.7, 1.44, 1.23, 1.05, 0.9, 0.75, 0.61, 0.47, 0.33, 0.18, 0.05]],
  [69, [2.3, 1.62, 1.38, 1.18, 1.01, 0.86, 0.72, 0.58, 0.44, 0.3, 0.16]],
  [70, [2.5, 1.66, 1.4, 1.2, 1.03, 0.88, 0.73, 0.59, 0.45, 0.31, 0.17]],
  [71, [1.58, 1.34, 1.15, 0.98, 0.83, 0.69, 0.55, 0.41, 0.27, 0.13]],
  [72, [1.9, 1.52, 1.29, 1.1, 0.94, 0.79, 0.65, 0.51, 0.37, 0.23, 0.08]],
  [73, [3.07, 2.3, 1.47, 1.25, 1.07, 0.91, 0.76, 0.62, 0.48, 0.34, 0.2]],
  [74, [1.56, 1.33, 1.14, 0.97, 0.82, 0.68, 0.54, 0.4, 0.26, 0.12]],
  [75, [2.25, 1.44, 1.22, 1.04, 0.88, 0.73, 0.59, 0.45, 0.31, 0.17, 0.03]],
  [76, [2.35, 1.5, 1.27, 1.08, 0.91, 0.76, 0.62, 0.48, 0.34, 0.2]],
  [77, [1.38, 1.17, 1.0, 0.85, 0.71, 0.57, 0.43, 0.29, 0.15]],
  [78, [1.65, 1.42, 1.2, 1.02, 0.86, 0.72, 0.58, 0.44, 0.3, 0.16]],
  [79, [1.35, 1.14, 0.97, 0.82, 0.68, 0.54, 0.4, 0.26, 0.12]],
  [80, [1.48, 1.25, 1.06, 0.9, 0.75, 0.61, 0.47, 0.33, 0.19]],
  [81, [1.18, 1.0, 0.85, 0.7, 0.56, 0.42, 0.28, 0.14]],
  [82, [1.8, 1.3, 1.1, 0.93, 0.78, 0.63, 0.49, 0.35, 0.2]],
  [83, [1.12, 0.95, 0.79, 0.64, 0.5, 0.36, 0.22, 0.08]],
  [84, [1.2, 1.02, 0.86, 0.71, 0.56, 0.42, 0.28]],
  [85, [0.98, 0.82, 0.66, 0.52, 0.38, 0.24, 0.12]],
  [86, [1.65, 1.15, 0.96, 0.8, 0.65, 0.5, 0.36, 0.22]],
  [87, [0.88, 0.72, 0.56, 0.42, 0.28, 0.14]],
  [88, [1.05, 0.85, 0.64, 0.46, 0.3]],
  [89, [0.8, 0.55, 0.38]],
  [90, [0.78, 0.5, 0.3, 0.14]],
  [91, [0.7, 0.5, 0.22]],
  [92, [0.6, 0.45, 0.3]],
];

const CD133_CORE: Col[] = [
  [36, [1.2, 0.8, 0.55, 0.3]],
  [37, [1.36, 1.1, 0.88, 0.65, 0.4, 0.25]],
  [38, [1.3, 1.02, 0.76, 0.45, 0.18]],
  [39, [1.42, 1.2, 0.95, 0.68, 0.38, 0.22]],
  [40, [1.37, 1.12, 0.9, 0.7, 0.48, 0.24]],
  [41, [1.55, 1.31, 1.1, 0.92, 0.75, 0.55, 0.35, 0.14]],
  [42, [1.48, 1.25, 1.06, 0.9, 0.74, 0.58, 0.43, 0.28, 0.12]],
  [43, [2.22, 1.42, 1.2, 1.02, 0.86, 0.7, 0.55, 0.4, 0.24, 0.08]],
  [44, [1.57, 1.35, 1.15, 0.98, 0.82, 0.66, 0.51, 0.36, 0.2, 0.05]],
  [45, [2.12, 1.39, 1.19, 1.02, 0.85, 0.7, 0.55, 0.4, 0.26, 0.11]],
  [46, [2.2, 1.5, 1.27, 1.08, 0.92, 0.76, 0.61, 0.46, 0.31, 0.16]],
  [47, [2.05, 1.62, 1.37, 1.17, 1.0, 0.84, 0.69, 0.54, 0.39, 0.25, 0.1]],
  [48, [2.3, 1.5, 1.28, 1.1, 0.93, 0.78, 0.63, 0.48, 0.34, 0.19, 0.05]],
  [49, [1.58, 1.35, 1.15, 0.98, 0.82, 0.67, 0.53, 0.39, 0.24, 0.09]],
  [50, [2.15, 1.53, 1.31, 1.12, 0.96, 0.8, 0.65, 0.51, 0.37, 0.22, 0.07]],
  [51, [2.08, 1.65, 1.41, 1.21, 1.03, 0.87, 0.72, 0.58, 0.43, 0.29, 0.14]],
  [52, [2.25, 1.48, 1.26, 1.08, 0.92, 0.76, 0.62, 0.48, 0.34, 0.19, 0.05]],
  [53, [2.18, 1.57, 1.35, 1.15, 0.97, 0.82, 0.68, 0.53, 0.39, 0.25, 0.11]],
  [54, [2.04, 1.45, 1.23, 1.05, 0.89, 0.74, 0.6, 0.46, 0.32, 0.18, 0.04]],
  [55, [1.52, 1.3, 1.11, 0.95, 0.8, 0.66, 0.52, 0.38, 0.24, 0.1]],
  [56, [2.12, 1.66, 1.41, 1.2, 1.03, 0.87, 0.73, 0.59, 0.45, 0.31, 0.16, 0.03]],
  [57, [2.2, 1.5, 1.28, 1.09, 0.93, 0.78, 0.64, 0.5, 0.36, 0.21, 0.07]],
  [58, [2.09, 1.7, 1.45, 1.23, 1.05, 0.9, 0.76, 0.62, 0.48, 0.34, 0.19, 0.05]],
  [59, [1.55, 1.32, 1.13, 0.96, 0.81, 0.67, 0.53, 0.39, 0.25, 0.11]],
  [60, [2.17, 1.76, 1.48, 1.26, 1.07, 0.91, 0.77, 0.63, 0.49, 0.35, 0.2, 0.06]],
  [61, [2.03, 1.44, 1.22, 1.04, 0.89, 0.75, 0.61, 0.47, 0.33, 0.18, 0.04]],
  [62, [2.24, 1.53, 1.3, 1.1, 0.94, 0.79, 0.65, 0.51, 0.37, 0.23, 0.08]],
  [63, [2.1, 1.72, 1.46, 1.24, 1.06, 0.9, 0.76, 0.62, 0.48, 0.34, 0.19, 0.05]],
  [64, [2.05, 1.4, 1.2, 1.02, 0.86, 0.72, 0.58, 0.44, 0.3, 0.16, 0.08]],
  [65, [2.2, 1.5, 1.27, 1.08, 0.92, 0.78, 0.64, 0.5, 0.36, 0.22, 0.07]],
  [66, [2.12, 1.62, 1.38, 1.18, 1.0, 0.85, 0.71, 0.57, 0.43, 0.29, 0.15, 0.03]],
  [67, [2.02, 1.37, 1.17, 0.99, 0.84, 0.7, 0.56, 0.42, 0.28, 0.14]],
  [68, [2.15, 1.55, 1.32, 1.12, 0.96, 0.81, 0.67, 0.53, 0.39, 0.25, 0.11]],
  [69, [2.08, 1.48, 1.26, 1.07, 0.91, 0.77, 0.63, 0.49, 0.35, 0.21, 0.07]],
  [70, [2.22, 1.52, 1.29, 1.1, 0.94, 0.79, 0.65, 0.51, 0.37, 0.23, 0.09]],
  [71, [1.43, 1.22, 1.04, 0.89, 0.75, 0.61, 0.47, 0.33, 0.19, 0.05]],
  [72, [2.12, 1.38, 1.18, 1.01, 0.86, 0.72, 0.58, 0.44, 0.3, 0.16]],
  [73, [1.34, 1.14, 0.97, 0.82, 0.68, 0.54, 0.4, 0.26, 0.12]],
  [74, [2.02, 1.45, 1.22, 1.04, 0.88, 0.74, 0.6, 0.46, 0.32, 0.18, 0.05]],
  [75, [1.32, 1.12, 0.95, 0.8, 0.66, 0.52, 0.38, 0.24, 0.1]],
  [76, [1.38, 1.16, 0.98, 0.83, 0.69, 0.55, 0.41, 0.27, 0.13]],
  [77, [1.95, 1.27, 1.08, 0.92, 0.78, 0.64, 0.5, 0.36, 0.22, 0.08]],
  [78, [1.3, 1.1, 0.93, 0.79, 0.65, 0.51, 0.37, 0.23, 0.1]],
  [79, [1.9, 1.24, 1.05, 0.89, 0.75, 0.61, 0.47, 0.33, 0.19, 0.06]],
  [80, [1.36, 1.14, 0.97, 0.82, 0.68, 0.54, 0.4, 0.26, 0.12]],
  [81, [1.27, 1.08, 0.92, 0.77, 0.63, 0.49, 0.35, 0.21, 0.07]],
  [82, [1.2, 1.02, 0.86, 0.71, 0.56, 0.42, 0.27, 0.13]],
  [83, [1.05, 0.88, 0.72, 0.57, 0.43, 0.29, 0.15]],
  [84, [1.1, 0.93, 0.78, 0.64, 0.49, 0.35, 0.2, 0.06]],
  [85, [0.9, 0.74, 0.59, 0.45, 0.31, 0.17]],
];

// CD34+/CD133+/CXCR4+ (cells/µl)
const TRIPLE_COLS: Col[] = [
  [18, [0.84, 0.51, 0.38, 0.36, 0.31, 0.3, 0.26, 0.24, 0.19]],
  [19, [0.77, 0.735, 0.72, 0.68, 0.6, 0.58, 0.56, 0.51, 0.47, 0.44, 0.43, 0.38, 0.37, 0.3, 0.22, 0.21, 0.19, 0.11]],
  [20, [0.8, 0.59, 0.44, 0.3, 0.21]],
  [21, [0.73, 0.42, 0.34, 0.2, 0.16]],
  [22, [0.38, 0.12]],
  [23, [0.61, 0.44, 0.28]],
  [24, [0.22, 0.17]],
  [25, [0.94, 0.8, 0.56, 0.32, 0.11, 0.05]],
  [26, [0.54, 0.44, 0.43, 0.24, 0.18, 0.15, 0.1]],
  [27, [0.39, 0.17]],
  [28, [0.73, 0.68, 0.51, 0.49, 0.37, 0.07]],
  [29, [0.92, 0.83, 0.81, 0.62, 0.38, 0.35, 0.28, 0.17, 0.02]],
  [30, [0.58, 0.54, 0.44, 0.3, 0.29, 0.21, 0.11]],
  [31, [0.8, 0.71, 0.69, 0.38, 0.3, 0.23]],
  [32, [0.9, 0.56, 0.45, 0.34, 0.27, 0.19, 0.14]],
  [33, [0.66, 0.52, 0.41, 0.33, 0.25, 0.17]],
  [34, [0.8, 0.64, 0.5, 0.4, 0.31, 0.22, 0.12]],
  [35, [0.86, 0.75, 0.62, 0.48, 0.38, 0.3, 0.21, 0.14]],
  [36, [0.8, 0.77, 0.64, 0.55, 0.46, 0.37, 0.28, 0.2, 0.1]],
  [37, [0.72, 0.6, 0.51, 0.42, 0.34, 0.26, 0.18, 0.06]],
  [38, [0.83, 0.66, 0.56, 0.47, 0.39, 0.31, 0.23, 0.15]],
  [39, [0.93, 0.76, 0.62, 0.52, 0.43, 0.35, 0.27, 0.19, 0.09]],
  [40, [0.78, 0.66, 0.57, 0.48, 0.4, 0.32, 0.24, 0.16, 0.03]],
  [41, [0.84, 0.7, 0.6, 0.51, 0.42, 0.34, 0.26, 0.18, 0.1]],
  [42, [0.92, 0.74, 0.63, 0.54, 0.45, 0.37, 0.29, 0.21, 0.13]],
  [43, [0.8, 0.68, 0.58, 0.49, 0.41, 0.33, 0.25, 0.17, 0.06]],
  [44, [0.88, 0.73, 0.62, 0.53, 0.44, 0.36, 0.28, 0.2, 0.12]],
  [45, [0.85, 0.7, 0.6, 0.51, 0.43, 0.35, 0.27, 0.19, 0.1]],
  [46, [0.93, 0.77, 0.65, 0.55, 0.46, 0.38, 0.3, 0.22, 0.14, 0.05]],
  [47, [0.82, 0.69, 0.59, 0.5, 0.42, 0.34, 0.26, 0.18, 0.09]],
  [48, [0.9, 0.75, 0.64, 0.54, 0.45, 0.37, 0.29, 0.21, 0.13]],
  [49, [0.86, 0.72, 0.61, 0.52, 0.43, 0.35, 0.27, 0.19, 0.11, 0.04]],
  [50, [0.94, 0.79, 0.66, 0.56, 0.47, 0.39, 0.31, 0.23, 0.15, 0.07]],
  [51, [0.83, 0.7, 0.6, 0.51, 0.42, 0.34, 0.26, 0.18, 0.1]],
  [52, [0.9, 0.76, 0.64, 0.54, 0.45, 0.37, 0.29, 0.21, 0.13, 0.05]],
  [53, [0.87, 0.73, 0.62, 0.52, 0.44, 0.36, 0.28, 0.2, 0.12]],
  [54, [0.93, 0.78, 0.66, 0.56, 0.47, 0.39, 0.31, 0.23, 0.15, 0.06]],
  [55, [0.84, 0.71, 0.6, 0.51, 0.43, 0.35, 0.27, 0.19, 0.11]],
  [56, [0.89, 0.75, 0.63, 0.53, 0.45, 0.37, 0.29, 0.21, 0.13, 0.04]],
  [57, [0.92, 0.79, 0.67, 0.57, 0.48, 0.4, 0.32, 0.24, 0.16, 0.08]],
  [58, [0.86, 0.72, 0.61, 0.52, 0.44, 0.36, 0.28, 0.2, 0.12]],
  [59, [0.91, 0.77, 0.65, 0.55, 0.46, 0.38, 0.3, 0.22, 0.14, 0.06]],
  [60, [0.83, 0.7, 0.6, 0.51, 0.43, 0.35, 0.27, 0.19, 0.11]],
  [61, [0.88, 0.74, 0.63, 0.54, 0.45, 0.37, 0.29, 0.21, 0.13, 0.05]],
  [62, [0.94, 0.8, 0.67, 0.57, 0.48, 0.4, 0.32, 0.24, 0.16, 0.08]],
  [63, [0.85, 0.72, 0.61, 0.52, 0.43, 0.35, 0.27, 0.19, 0.11, 0.02]],
  [64, [0.9, 0.76, 0.64, 0.54, 0.46, 0.38, 0.3, 0.22, 0.14]],
  [65, [0.82, 0.69, 0.59, 0.5, 0.42, 0.34, 0.26, 0.18, 0.1]],
  [66, [0.88, 0.74, 0.62, 0.53, 0.44, 0.36, 0.28, 0.2, 0.12, 0.04]],
  [67, [0.93, 0.78, 0.66, 0.56, 0.47, 0.39, 0.31, 0.23, 0.15, 0.07]],
  [68, [0.84, 0.71, 0.6, 0.51, 0.42, 0.34, 0.26, 0.18, 0.1]],
  [69, [0.89, 0.75, 0.63, 0.53, 0.45, 0.37, 0.29, 0.21, 0.13, 0.05]],
  [70, [0.8, 0.68, 0.58, 0.49, 0.41, 0.33, 0.25, 0.17, 0.09]],
  [71, [0.86, 0.72, 0.61, 0.52, 0.43, 0.35, 0.27, 0.19, 0.11]],
  [72, [0.91, 0.76, 0.64, 0.54, 0.45, 0.37, 0.29, 0.21, 0.13, 0.05]],
  [73, [0.78, 0.66, 0.56, 0.47, 0.39, 0.31, 0.23, 0.15, 0.07]],
  [74, [0.84, 0.7, 0.59, 0.5, 0.42, 0.34, 0.26, 0.18, 0.1]],
  [75, [0.89, 0.73, 0.61, 0.51, 0.43, 0.35, 0.27, 0.19, 0.11]],
  [76, [0.75, 0.63, 0.53, 0.45, 0.37, 0.29, 0.21, 0.13, 0.02]],
  [77, [0.8, 0.67, 0.56, 0.47, 0.39, 0.31, 0.23, 0.15]],
  [78, [0.95, 0.72, 0.6, 0.5, 0.41, 0.33, 0.25, 0.17, 0.09]],
  [79, [0.68, 0.57, 0.48, 0.4, 0.32, 0.24, 0.16, 0.08]],
  [80, [0.78, 0.63, 0.52, 0.43, 0.35, 0.27, 0.19, 0.11]],
  [81, [0.7, 0.58, 0.48, 0.39, 0.31, 0.23, 0.15]],
  [82, [0.66, 0.55, 0.46, 0.37, 0.29, 0.21, 0.13]],
  [83, [0.71, 0.5, 0.41, 0.33, 0.25, 0.17, 0.09]],
  [84, [0.6, 0.49, 0.4, 0.32, 0.24, 0.16]],
  [85, [0.55, 0.45, 0.36, 0.28, 0.2, 0.12]],
  [86, [0.65, 0.48, 0.39, 0.3, 0.22, 0.14]],
  [87, [0.84, 0.79, 0.4, 0.31, 0.23, 0.15]],
  [88, [0.6, 0.35, 0.26, 0.18]],
  [89, [0.52, 0.28, 0.14]],
  [90, [0.85, 0.75, 0.45, 0.2, 0.08]],
  [91, [0.42, 0.27, 0.12]],
  [92, [0.8, 0.47, 0.33, 0.19]],
];

const TRIPLE_CORE: Col[] = [
  [36, [0.5, 0.32, 0.15]],
  [37, [0.55, 0.38, 0.22, 0.1]],
  [38, [0.6, 0.43, 0.27, 0.11]],
  [39, [0.47, 0.31, 0.23, 0.14, 0.05]],
  [40, [0.52, 0.44, 0.36, 0.28, 0.2, 0.1]],
  [41, [0.55, 0.46, 0.38, 0.3, 0.22, 0.14, 0.06]],
  [42, [0.58, 0.5, 0.41, 0.33, 0.25, 0.17, 0.08]],
  [43, [0.53, 0.45, 0.37, 0.29, 0.21, 0.12, 0.03]],
  [44, [0.57, 0.48, 0.4, 0.32, 0.24, 0.16, 0.07]],
  [45, [0.64, 0.55, 0.47, 0.39, 0.31, 0.23, 0.15, 0.06]],
  [46, [0.6, 0.5, 0.42, 0.34, 0.26, 0.18, 0.09]],
  [47, [0.63, 0.54, 0.46, 0.38, 0.3, 0.22, 0.13, 0.04]],
  [48, [0.58, 0.49, 0.41, 0.33, 0.25, 0.17, 0.08]],
  [49, [0.66, 0.56, 0.47, 0.39, 0.31, 0.23, 0.15, 0.07]],
  [50, [0.6, 0.51, 0.43, 0.35, 0.27, 0.19, 0.11, 0.03]],
  [51, [0.64, 0.55, 0.46, 0.38, 0.3, 0.22, 0.14, 0.06]],
  [52, [0.59, 0.5, 0.41, 0.33, 0.25, 0.17, 0.09]],
  [53, [0.67, 0.57, 0.48, 0.4, 0.32, 0.24, 0.16, 0.08]],
  [54, [0.61, 0.52, 0.43, 0.35, 0.27, 0.19, 0.11, 0.03]],
  [55, [0.65, 0.56, 0.47, 0.39, 0.31, 0.23, 0.15, 0.07]],
  [56, [0.58, 0.49, 0.41, 0.33, 0.25, 0.17, 0.09]],
  [57, [0.62, 0.53, 0.44, 0.36, 0.28, 0.2, 0.12, 0.04]],
  [58, [0.68, 0.57, 0.48, 0.4, 0.32, 0.24, 0.16, 0.08]],
  [59, [0.6, 0.51, 0.42, 0.34, 0.26, 0.18, 0.1]],
  [60, [0.64, 0.55, 0.47, 0.39, 0.31, 0.23, 0.15, 0.07]],
  [61, [0.59, 0.5, 0.41, 0.33, 0.25, 0.17, 0.09]],
  [62, [0.62, 0.53, 0.44, 0.36, 0.28, 0.2, 0.12, 0.04]],
  [63, [0.66, 0.56, 0.47, 0.39, 0.31, 0.23, 0.15, 0.07]],
  [64, [0.6, 0.5, 0.42, 0.34, 0.26, 0.18, 0.1, 0.03]],
  [65, [0.63, 0.54, 0.46, 0.38, 0.3, 0.22, 0.14, 0.06]],
  [66, [0.57, 0.48, 0.4, 0.32, 0.24, 0.16, 0.08]],
  [67, [0.61, 0.52, 0.43, 0.35, 0.27, 0.19, 0.11, 0.03]],
  [68, [0.64, 0.55, 0.47, 0.38, 0.3, 0.22, 0.14, 0.06]],
  [69, [0.58, 0.49, 0.41, 0.33, 0.25, 0.17, 0.09]],
  [70, [0.62, 0.53, 0.45, 0.37, 0.29, 0.21, 0.13, 0.05]],
  [71, [0.56, 0.47, 0.39, 0.31, 0.23, 0.15, 0.07]],
  [72, [0.6, 0.5, 0.41, 0.33, 0.25, 0.17, 0.09]],
  [73, [0.54, 0.43, 0.35, 0.27, 0.19, 0.11, 0.03]],
  [74, [0.55, 0.46, 0.38, 0.3, 0.22, 0.14, 0.06]],
  [75, [0.56, 0.47, 0.39, 0.31, 0.23, 0.15, 0.07]],
  [76, [0.5, 0.41, 0.33, 0.25, 0.17, 0.09]],
  [77, [0.52, 0.43, 0.35, 0.27, 0.19, 0.11, 0.04]],
  [78, [0.55, 0.45, 0.37, 0.29, 0.21, 0.13, 0.05]],
  [79, [0.5, 0.44, 0.36, 0.28, 0.2, 0.12]],
  [80, [0.48, 0.39, 0.31, 0.23, 0.15, 0.07]],
  [81, [0.53, 0.44, 0.35, 0.27, 0.19, 0.11]],
  [82, [0.5, 0.41, 0.33, 0.25, 0.17, 0.09]],
  [83, [0.46, 0.37, 0.29, 0.21, 0.13]],
  [84, [0.44, 0.36, 0.28, 0.2, 0.12, 0.04]],
];

// fitted lines and 95% bands, read at a few ages
const CD34_FIT: Pt[] = [{ x: 11, y: 2.81 }, { x: 94, y: 1.375 }];
const CD34_HI: Pt[] = [{ x: 15, y: 2.88 }, { x: 35, y: 2.47 }, { x: 57, y: 2.06 }, { x: 76, y: 1.76 }, { x: 94, y: 1.5 }];
const CD34_LO: Pt[] = [{ x: 15, y: 2.59 }, { x: 35, y: 2.31 }, { x: 57, y: 1.96 }, { x: 76, y: 1.61 }, { x: 94, y: 1.25 }];

const CXCR4_FIT: Pt[] = [{ x: 11, y: 1.14 }, { x: 94, y: 0.85 }];
const CXCR4_HI: Pt[] = [{ x: 15, y: 1.207 }, { x: 35, y: 1.1 }, { x: 57, y: 1.005 }, { x: 76, y: 0.955 }, { x: 94, y: 0.921 }];
const CXCR4_LO: Pt[] = [{ x: 15, y: 1.043 }, { x: 35, y: 1.01 }, { x: 57, y: 0.953 }, { x: 76, y: 0.87 }, { x: 94, y: 0.778 }];

const CD133_FIT: Pt[] = [{ x: 11, y: 1.425 }, { x: 94, y: 0.615 }];
const CD133_HI: Pt[] = [{ x: 15, y: 1.466 }, { x: 35, y: 1.24 }, { x: 57, y: 1.005 }, { x: 76, y: 0.83 }, { x: 94, y: 0.681 }];
const CD133_LO: Pt[] = [{ x: 15, y: 1.308 }, { x: 35, y: 1.14 }, { x: 57, y: 0.947 }, { x: 76, y: 0.75 }, { x: 94, y: 0.544 }];

const TRIPLE_FIT: Pt[] = [{ x: 11, y: 0.524 }, { x: 94, y: 0.361 }];
const TRIPLE_HI: Pt[] = [{ x: 15, y: 0.556 }, { x: 35, y: 0.5 }, { x: 57, y: 0.446 }, { x: 76, y: 0.417 }, { x: 94, y: 0.397 }];
const TRIPLE_LO: Pt[] = [{ x: 15, y: 0.476 }, { x: 35, y: 0.454 }, { x: 57, y: 0.422 }, { x: 76, y: 0.375 }, { x: 94, y: 0.325 }];

const FONT = '"Liberation Sans", Arial, Helvetica, sans-serif';

function toPoints(cols: Col[]): Pt[] {
  return cols.flatMap(([age, vals]) => vals.map((v) => ({ x: age, y: v })));
}

const Dot = (props: any) => (
  <circle cx={props.cx} cy={props.cy} r={2.2} fill="#c6dbf2" stroke="#80b0e1" strokeWidth={1} />
);
const NoDot = () => <g />;

interface PanelProps {
  left: number;
  top: number;
  width: number;
  cols: Col[];
  fit: Pt[];
  hi: Pt[];
  lo: Pt[];
  yDomain: number[];
  yTicks: number[];
  yFormat?: (v: number) => string;
  ageLabels?: boolean;
}

function Panel({ left, top, width, cols, fit, hi, lo, yDomain, yTicks, yFormat, ageLabels }: PanelProps) {
  const xHeight = ageLabels ? 40 : 16;
  const dashed = { stroke: '#999999', strokeWidth: 1.6, strokeDasharray: '9 5' };
  return (
    <div style={{ position: 'absolute', left, top }}>
      <ScatterChart width={width} height={469 + xHeight} margin={{ top: 0, right: 2, bottom: 0, left: 0 }}>
        <XAxis
          type="number"
          dataKey="x"
          domain={AGE_DOMAIN}
          ticks={AGE_TICKS}
          allowDataOverflow
          height={xHeight}
          tickSize={12}
          tickMargin={8}
          axisLine={{ stroke: '#9a9a9a', strokeWidth: 1.5 }}
          tickLine={{ stroke: '#444', strokeWidth: 1.5 }}
          tick={{ fill: '#000', fontSize: 18, fontWeight: 700, fontFamily: FONT }}
          tickFormatter={ageLabels ? (v: number) => String(v) : () => ''}
        />
        <YAxis
          type="number"
          dataKey="y"
          domain={yDomain}
          ticks={yTicks}
          allowDataOverflow
          width={53}
          tickSize={10}
          tickMargin={3}
          axisLine={{ stroke: '#9a9a9a', strokeWidth: 1.5 }}
          tickLine={{ stroke: '#444', strokeWidth: 1.5 }}
          tick={{ fill: '#000', fontSize: 18, fontWeight: 700, fontFamily: FONT }}
          tickFormatter={yFormat}
        />
        <Scatter data={toPoints(cols)} shape={Dot} isAnimationActive={false} />
        <Scatter data={hi} shape={NoDot} line={dashed} lineType="joint" isAnimationActive={false} />
        <Scatter data={lo} shape={NoDot} line={dashed} lineType="joint" isAnimationActive={false} />
        <Scatter data={fit} shape={NoDot} line={{ stroke: '#000', strokeWidth: 2.6 }} lineType="joint" isAnimationActive={false} />
      </ScatterChart>
    </div>
  );
}

// r on one line, p with its power of ten on the next
function Stats({ x, y, r, base, exp }: { x: number; y: number; r: string; base: string; exp: string }) {
  return (
    <text fontFamily={FONT} fontWeight={700} fill="#000" fontSize={20.5}>
      <tspan x={x} y={y}>{r}</tspan>
      <tspan x={x} y={y + 22.5}>{base}</tspan>
      <tspan fontSize={14} dy={-6.5}>{exp}</tspan>
    </text>
  );
}

function YTitle({ x, y, label }: { x: number; y: number; label: string }) {
  return (
    <text
      transform={`translate(${x},${y}) rotate(-90)`}
      textAnchor="middle"
      dominantBaseline="central"
      fontFamily={FONT}
      fontWeight={700}
      fontSize={22}
      fill="#000"
    >
      {label}
    </text>
  );
}

const decimalTick = (v: number) => v.toFixed(1).replace(/^0/, '');

export default function App() {
  return (
    <div style={{ position: 'absolute', left: 0, top: 0, width: 1050, height: 1025, background: '#fff', overflow: 'hidden' }}>
      <Panel left={0} top={0} width={512} cols={[...CD34_COLS, ...CD34_CORE]} fit={CD34_FIT} hi={CD34_HI} lo={CD34_LO}
        yDomain={[-0.317, 6.354]} yTicks={[0, 1, 2, 3, 4, 5, 6]} />
      <Panel left={538} top={0} width={513} cols={[...CXCR4_COLS, ...CXCR4_CORE]} fit={CXCR4_FIT} hi={CXCR4_HI} lo={CXCR4_LO}
        yDomain={[-0.107, 2.116]} yTicks={[0, 1, 2]} />
      <Panel left={0} top={488} width={512} cols={[...CD133_COLS, ...CD133_CORE]} fit={CD133_FIT} hi={CD133_HI} lo={CD133_LO}
        yDomain={[-0.158, 3.168]} yTicks={[0, 1, 2, 3]} ageLabels />
      <Panel left={544} top={488} width={507} cols={[...TRIPLE_COLS, ...TRIPLE_CORE]} fit={TRIPLE_FIT} hi={TRIPLE_HI} lo={TRIPLE_LO}
        yDomain={[-0.051, 0.949]} yTicks={[0, 0.3, 0.6, 0.9]} yFormat={decimalTick} ageLabels />

      <svg width={1050} height={1025} style={{ position: 'absolute', left: 0, top: 0, pointerEvents: 'none' }}>
        <Stats x={59} y={22.5} r="r=-0.18" base="p=2x10" exp="-16" />
        <Stats x={597} y={22.5} r="r=-0.08" base="p=2x10" exp="-5" />
        <Stats x={57} y={510.5} r="r=-0.21" base="p=2x10" exp="-16" />
        <Stats x={601} y={509.5} r="r=-0.11" base="p=4x10" exp="-8" />

        <YTitle x={13} y={234} label="CD34+ (cells/µl)" />
        <YTitle x={551} y={234} label="CD34+/CXCR4+ (cells/µl)" />
        <YTitle x={13} y={722} label="CD34+/CD133+ (cells/µl)" />
        <YTitle x={550} y={722} label="CD34+/CD133+/CXCR4+ (cells/µl)" />

        <text x={281} y={1015} textAnchor="middle" fontFamily={FONT} fontWeight={700} fontSize={22} fill="#000">age (years)</text>
        <text x={823} y={1015} textAnchor="middle" fontFamily={FONT} fontWeight={700} fontSize={22} fill="#000">age (years)</text>
      </svg>
    </div>
  );
}
